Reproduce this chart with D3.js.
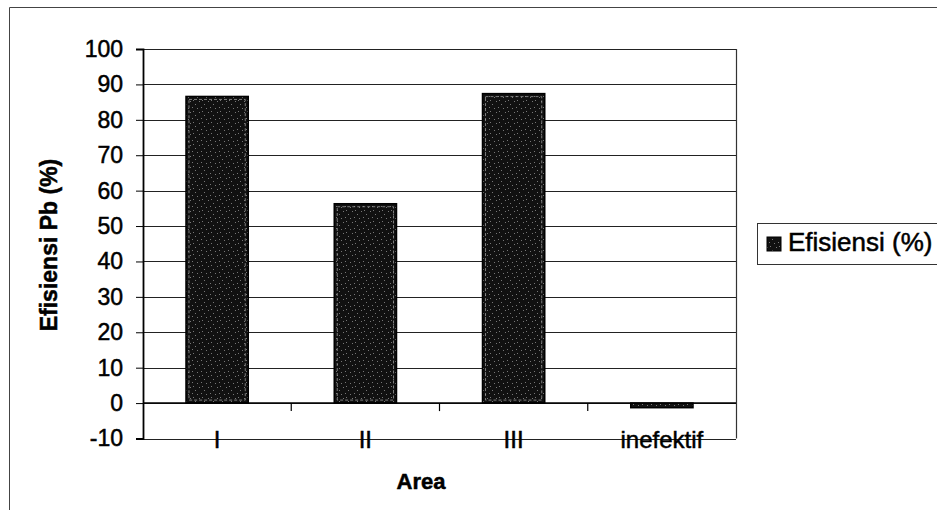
<!DOCTYPE html>
<html>
<head>
<meta charset="utf-8">
<script src="https://cdn.jsdelivr.net/npm/d3@7"></script>
<style>
  html, body { margin: 0; padding: 0; background: #fff; }
  svg { display: block; }
  text { font-family: "Liberation Sans", Arial, sans-serif; fill: #000; stroke: #000; stroke-width: 0.5px; }
</style>
</head>
<body>
<svg id="chart" width="937" height="521"></svg>
<script>
// Lead (Pb) removal efficiency per area
const categories = ["I", "II", "III", "inefektif"];
const efficiency = [86.6, 56.3, 87.4, -1.3];
const yTicks = [-10, 0, 10, 20, 30, 40, 50, 60, 70, 80, 90, 100];
const seriesName = "Efisiensi (%)";
const yTitle = "Efisiensi Pb (%)";
const xTitle = "Area";

const svg = d3.select("#chart");
const plot = { left: 143, right: 736, top: 49, bottom: 438.5 };

const x = d3.scaleBand()
  .domain(categories)
  .range([plot.left, plot.right])
  .paddingInner(0.58)
  .paddingOuter(0.29);

const y = d3.scaleLinear()
  .domain([d3.min(yTicks), d3.max(yTicks)])
  .range([plot.bottom, plot.top]);

// Outer chart frame (left and top edges)
svg.append("path")
  .attr("d", "M9.5,510 V7.5 H937")
  .attr("fill", "none").attr("stroke", "#444").attr("stroke-width", 1);

// Horizontal gridlines
svg.append("g")
  .selectAll("line")
  .data(yTicks)
  .join("line")
  .attr("x1", plot.left).attr("x2", plot.right)
  .attr("y1", d => Math.round(y(d)) + 0.5).attr("y2", d => Math.round(y(d)) + 0.5)
  .attr("stroke", "#222").attr("stroke-width", 1.2);

// Right plot border
svg.append("line")
  .attr("x1", plot.right + 0.5).attr("x2", plot.right + 0.5)
  .attr("y1", y(100)).attr("y2", y(-10))
  .attr("stroke", "#333").attr("stroke-width", 1.2);

// Value axis
const yAxis = svg.append("g")
  .attr("transform", `translate(${plot.left},0)`)
  .call(d3.axisLeft(y).tickValues(yTicks).tickFormat(d => String(d)).tickSize(7).tickPadding(13));
yAxis.select(".domain").attr("stroke", "#000").attr("stroke-width", 1.8);
yAxis.selectAll(".tick line").attr("stroke", "#000");
yAxis.selectAll(".tick text")
  .attr("font-size", 23)
  .attr("font-family", "Liberation Sans, Arial, sans-serif")
  .attr("fill", "#000");

// Bars
const defs = svg.append("defs");
const pat = defs.append("pattern")
  .attr("id", "speckle").attr("patternUnits", "userSpaceOnUse")
  .attr("width", 9).attr("height", 11);
pat.append("rect").attr("width", 9).attr("height", 11).attr("fill", "#111");
[[1, 2], [6, 5], [3, 8], [8, 9], [4, 1]].forEach(([px, py]) => {
  pat.append("rect").attr("x", px).attr("y", py)
    .attr("width", 1).attr("height", 1).attr("fill", "#777");
});

const bars = svg.append("g")
  .selectAll("g")
  .data(categories.map((c, i) => ({ c, v: efficiency[i] })))
  .join("g");

bars.append("rect")
  .attr("x", d => x(d.c))
  .attr("y", d => y(Math.max(0, d.v)))
  .attr("width", x.bandwidth())
  .attr("height", d => Math.abs(y(d.v) - y(0)))
  .attr("fill", "url(#speckle)")
  .attr("stroke", "#000").attr("stroke-width", 1.5);

bars.append("rect")
  .attr("x", d => x(d.c) + 3)
  .attr("y", d => y(Math.max(0, d.v)) + 3)
  .attr("width", x.bandwidth() - 6)
  .attr("height", d => Math.max(0, Math.abs(y(d.v) - y(0)) - 6))
  .attr("fill", "none")
  .attr("stroke", "#999").attr("stroke-width", 0.8)
  .attr("stroke-dasharray", "3,2");

// Category axis at zero with tick marks between categories
svg.append("line")
  .attr("x1", plot.left).attr("x2", plot.right)
  .attr("y1", y(0)).attr("y2", y(0))
  .attr("stroke", "#000").attr("stroke-width", 1.5);
const step = x.step();
svg.append("g")
  .selectAll("line")
  .data(d3.range(1, categories.length))
  .join("line")
  .attr("x1", d => plot.left + d * step).attr("x2", d => plot.left + d * step)
  .attr("y1", y(0)).attr("y2", y(0) + 8)
  .attr("stroke", "#000").attr("stroke-width", 1.2);

// Category labels
svg.append("g")
  .selectAll("text")
  .data(categories)
  .join("text")
  .attr("x", d => x(d) + x.bandwidth() / 2)
  .attr("y", plot.bottom + 9)
  .attr("text-anchor", "middle")
  .attr("font-size", 24)
  .text(d => d);

// Axis titles
svg.append("text")
  .attr("x", 421).attr("y", 489)
  .attr("text-anchor", "middle")
  .attr("font-size", 22).attr("font-weight", "bold")
  .attr("stroke-width", 0.3)
  .text(xTitle);

svg.append("text")
  .attr("transform", "translate(57,245) rotate(-90)")
  .attr("text-anchor", "middle")
  .attr("font-size", 23).attr("font-weight", "bold")
  .attr("stroke-width", 0.3)
  .text(yTitle);

// Legend
const legend = svg.append("g").attr("transform", "translate(757,223)");
legend.append("rect")
  .attr("x", 0.5).attr("y", 0.5).attr("width", 200).attr("height", 41)
  .attr("fill", "#fff").attr("stroke", "#333").attr("stroke-width", 1);
legend.append("rect")
  .attr("x", 10).attr("y", 14).attr("width", 14).attr("height", 14)
  .attr("fill", "url(#speckle)").attr("stroke", "#000").attr("stroke-width", 1);
legend.append("text")
  .attr("x", 31).attr("y", 28)
  .attr("font-size", 26)
  .text(seriesName);
</script>
</body>
</html>
